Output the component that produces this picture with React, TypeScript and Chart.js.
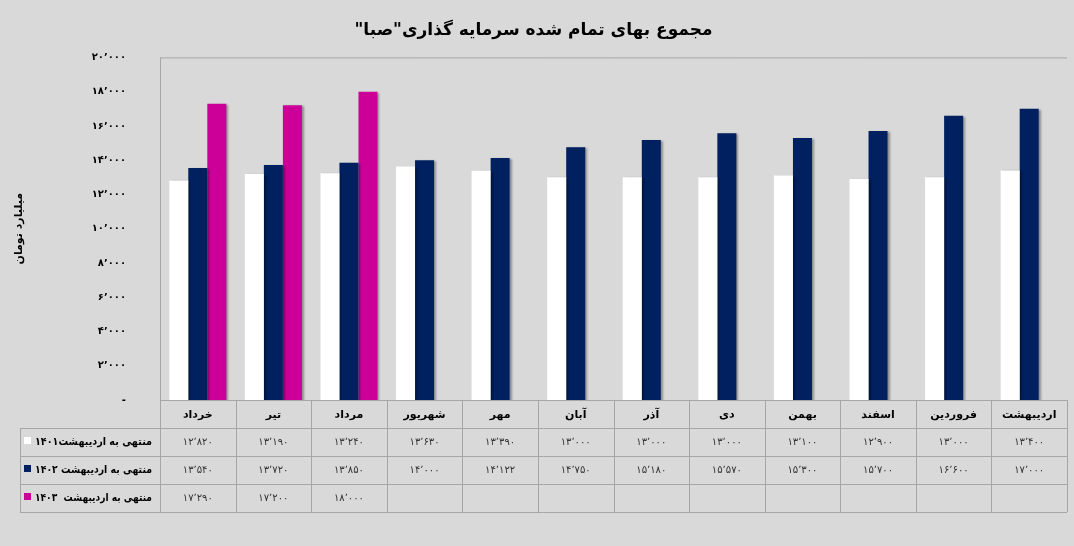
import React, { useEffect, useRef } from 'react';
import { Chart, registerables } from 'chart.js';

Chart.register(...registerables);

const months = ['خرداد', 'تیر', 'مرداد', 'شهریور', 'مهر', 'آبان', 'آذر', 'دی', 'بهمن', 'اسفند', 'فروردین', 'اردیبهشت'];
const upTo1401 = [12820, 13190, 13240, 13630, 13390, 13000, 13000, 13000, 13100, 12900, 13000, 13400];
const upTo1402 = [13540, 13720, 13850, 14000, 14122, 14750, 15180, 15570, 15300, 15700, 16600, 17000];
const upTo1403 = [17290, 17200, 18000, null, null, null, null, null, null, null, null, null];
const seriesNames = ['منتهی به اردیبهشت۱۴۰۱', 'منتهی به اردیبهشت ۱۴۰۲', 'منتهی به اردیبهشت  ۱۴۰۳'];
const seriesColors = ['#ffffff', '#002060', '#cc0099'];

const FONT = '"DejaVu Sans", sans-serif';

const faNum = (n: number) =>
  n.toLocaleString('en-US').replace(/\d/g, (d) => '۰۱۲۳۴۵۶۷۸۹'[+d]).replace(/,/g, '٬');

// draws the data table under the plot, columns taken from the x scale
const tablePlugin = {
  id: 'dataTable',
  beforeDatasetsDraw(chart: any) {
    const ctx = chart.ctx;
    ctx.save();
    ctx.shadowColor = 'rgba(0,0,0,0.35)';
    ctx.shadowOffsetX = 2;
    ctx.shadowOffsetY = 1;
    ctx.shadowBlur = 2;
  },
  afterDatasetsDraw(chart: any) {
    chart.ctx.restore();
  },
  afterDraw(chart: any) {
    const { ctx, chartArea: a, scales } = chart;
    const x = scales.x;
    const colW = (a.right - a.left) / months.length;
    const rowH = 28;
    const top = a.bottom;
    const legendLeft = 20;
    const bottom = top + rowH * 4;
    const line = (x1: number, y1: number, x2: number, y2: number) => {
      ctx.beginPath();
      ctx.moveTo(x1, y1);
      ctx.lineTo(x2, y2);
      ctx.stroke();
    };
    ctx.save();
    ctx.strokeStyle = '#a6a6a6';
    ctx.lineWidth = 1;
    line(a.left, a.top + 0.5, a.right, a.top + 0.5);
    line(a.left + 0.5, a.top, a.left + 0.5, bottom);
    line(a.left, top + 0.5, a.right, top + 0.5);
    for (let r = 1; r <= 4; r++) {
      const y = Math.round(top + r * rowH) + 0.5;
      line(legendLeft, y, a.right, y);
    }
    for (let i = 1; i <= months.length; i++) {
      const xx = Math.round(a.left + i * colW) + 0.5;
      line(xx, top, xx, bottom);
    }
    line(legendLeft + 0.5, top + rowH, legendLeft + 0.5, bottom);

    ctx.textBaseline = 'middle';
    ctx.textAlign = 'center';
    ctx.fillStyle = '#000';
    ctx.font = `bold 11px ${FONT}`;
    months.forEach((m, i) => {
      ctx.fillText(m, x.getPixelForValue(i), top + rowH / 2 + 1);
    });

    const rows = [upTo1401, upTo1402, upTo1403];
    ctx.font = `10px ${FONT}`;
    ctx.fillStyle = '#333';
    rows.forEach((vals, r) => {
      const cy = top + rowH * (r + 1) + rowH / 2;
      vals.forEach((v, i) => {
        if (v == null) return;
        ctx.fillText(faNum(v), x.getPixelForValue(i), cy);
      });
    });

    ctx.textAlign = 'right';
    ctx.font = `bold 11px ${FONT}`;
    ctx.fillStyle = '#000';
    seriesNames.forEach((name, r) => {
      const cy = top + rowH * (r + 1) + rowH / 2;
      ctx.fillText(name, a.left - 8, cy, a.left - 8 - (legendLeft + 15));
      ctx.fillStyle = seriesColors[r];
      ctx.fillRect(legendLeft + 4, cy - 5, 7, 7);
      ctx.fillStyle = '#000';
    });
    ctx.restore();
  },
};

const App = () => {
  const chartRef = useRef<HTMLCanvasElement | null>(null);

  useEffect(() => {
    if (!chartRef.current) return;
    const myChart = new Chart(chartRef.current, {
      type: 'bar',
      data: {
        labels: months,
        datasets: [
          { label: seriesNames[0], data: upTo1401, backgroundColor: seriesColors[0] },
          { label: seriesNames[1], data: upTo1402, backgroundColor: seriesColors[1] },
          { label: seriesNames[2], data: upTo1403, backgroundColor: seriesColors[2] },
        ],
      },
      options: {
        animation: false,
        responsive: true,
        maintainAspectRatio: false,
        layout: { padding: { left: 0, right: 7, bottom: 146 } },
        datasets: { bar: { categoryPercentage: 0.755, barPercentage: 1 } },
        plugins: {
          legend: { display: false },
          tooltip: { enabled: false },
          title: {
            display: true,
            text: 'مجموع بهای تمام شده سرمایه گذاری"صبا"',
            color: '#000',
            font: { family: FONT, size: 17, weight: 'bold' },
            padding: { top: 20, bottom: 17 },
          },
        },
        scales: {
          x: { display: false },
          y: {
            min: 0,
            max: 20000,
            afterFit: (scale: any) => {
              scale.width = 160;
            },
            grid: { display: false, drawTicks: false },
            border: { display: false },
            title: {
              display: true,
              text: 'میلیارد تومان',
              color: '#000',
              font: { family: FONT, size: 11, weight: 'bold' },
              padding: { top: 13, bottom: 0 },
            },
            ticks: {
              stepSize: 2000,
              padding: 34,
              color: '#000',
              font: { family: FONT, size: 10, weight: 'bold' },
              callback: (v: any) => (Number(v) === 0 ? '-' : faNum(Number(v))),
            },
          },
        },
      },
      plugins: [tablePlugin],
    });
    return () => {
      myChart.destroy();
    };
  }, []);

  return (
    <div style={{ position: 'fixed', left: 0, top: 0, width: 1074, height: 546, background: '#d9d9d9' }}>
      <canvas ref={chartRef} style={{ direction: 'rtl' }} />
    </div>
  );
};

export default App;
